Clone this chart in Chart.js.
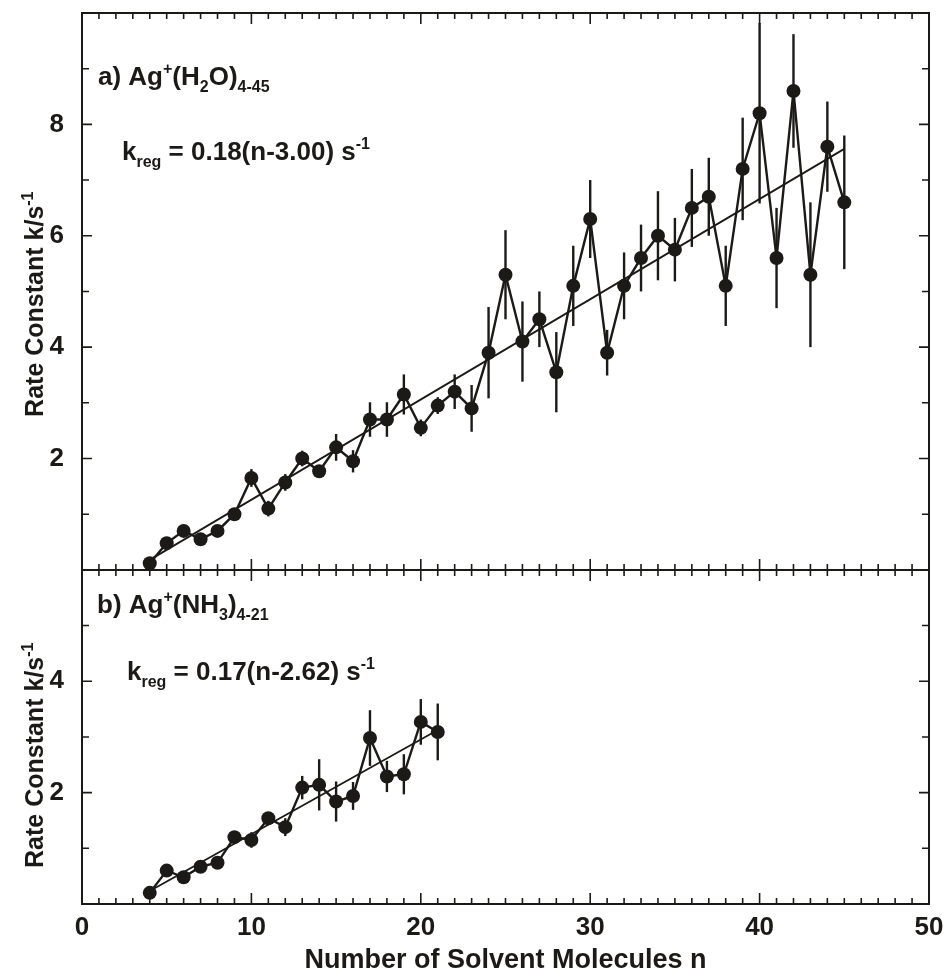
<!DOCTYPE html>
<html>
<head>
<meta charset="utf-8">
<script src="https://cdn.jsdelivr.net/npm/chart.js@4"></script>
<style>
  html, body { margin: 0; padding: 0; background: #fff; }
</style>
</head>
<body>
<canvas id="rateChart" width="944" height="976"></canvas>
<script>
// Ag+(H2O)n and Ag+(NH3)n rate constants vs. cluster size, two stacked panels

// panel a) water clusters, n = 4..45
const nWater = [4, 5, 6, 7, 8, 9, 10, 11, 12, 13, 14, 15, 16, 17, 18, 19, 20, 21, 22, 23, 24,
  25, 26, 27, 28, 29, 30, 31, 32, 33, 34, 35, 36, 37, 38, 39, 40, 41, 42, 43, 44, 45];
const kWater = [0.12, 0.48, 0.70, 0.55, 0.70, 1.00, 1.65, 1.10, 1.57, 2.00, 1.77, 2.20, 1.95,
  2.70, 2.70, 3.15, 2.55, 2.95, 3.20, 2.90, 3.90, 5.30, 4.10, 4.50, 3.55, 5.10, 6.30, 3.90,
  5.10, 5.60, 6.00, 5.75, 6.50, 6.70, 5.10, 7.20, 8.20, 5.60, 8.60, 5.30, 7.60, 6.60];
const errWater = [0.04, 0.05, 0.05, 0.06, 0.07, 0.05, 0.16, 0.14, 0.15, 0.14, 0.10, 0.24, 0.20,
  0.31, 0.31, 0.36, 0.15, 0.15, 0.31, 0.42, 0.82, 0.80, 0.72, 0.50, 0.72, 0.72, 0.70, 0.41,
  0.60, 0.60, 0.80, 0.57, 0.70, 0.70, 0.72, 0.92, 1.62, 0.90, 1.02, 1.30, 0.81, 1.20];
// linear fit k = slope * (n - n0), drawn over the measured range
const fitWater = [0.18, 3.00];

// panel b) ammonia clusters, n = 4..21
const nAmmonia = [4, 5, 6, 7, 8, 9, 10, 11, 12, 13, 14, 15, 16, 17, 18, 19, 20, 21];
const kAmmonia = [0.20, 0.60, 0.48, 0.67, 0.74, 1.20, 1.15, 1.54, 1.38, 2.09, 2.14, 1.84,
  1.94, 2.98, 2.29, 2.33, 3.27, 3.09];
const errAmmonia = [0.03, 0.04, 0.04, 0.08, 0.05, 0.05, 0.14, 0.10, 0.16, 0.21, 0.46, 0.36,
  0.25, 0.50, 0.28, 0.36, 0.41, 0.51];
const fitAmmonia = [0.17, 2.62];

// axes
const xRange = [0, 50];
const xTickStep = 10;
const yRangeA = [0, 10];
const yRangeB = [0, 6];

const INK = '#1c1a17';
const FONT = '"Liberation Sans", Arial, Helvetica, sans-serif';

const pts = (xs, ys) => xs.map((x, i) => ({ x, y: ys[i] }));
const fitLine = (xs, fit) => {
  const a = xs[0], b = xs[xs.length - 1];
  return [{ x: a, y: fit[0] * (a - fit[1]) }, { x: b, y: fit[0] * (b - fit[1]) }];
};

// text with sub/superscripts: parts = [{t, s: 'sub'|'sup'}]
function drawRich(ctx, parts, x, y, size) {
  let cx = x;
  const small = Math.round(size * 0.62);
  for (const p of parts) {
    ctx.font = `bold ${p.s ? small : size}px ${FONT}`;
    const dy = p.s === 'sub' ? size * 0.28 : p.s === 'sup' ? -size * 0.42 : 0;
    ctx.fillText(p.t, cx, y + dy);
    cx += ctx.measureText(p.t).width;
  }
}

const labelA = [{ t: 'a) Ag' }, { t: '+', s: 'sup' }, { t: '(H' }, { t: '2', s: 'sub' },
  { t: 'O)' }, { t: '4-45', s: 'sub' }];
const eqA = [{ t: 'k' }, { t: 'reg', s: 'sub' }, { t: ' = 0.18(n-3.00) s' }, { t: '-1', s: 'sup' }];
const labelB = [{ t: 'b) Ag' }, { t: '+', s: 'sup' }, { t: '(NH' }, { t: '3', s: 'sub' },
  { t: ')' }, { t: '4-21', s: 'sub' }];
const eqB = [{ t: 'k' }, { t: 'reg', s: 'sub' }, { t: ' = 0.17(n-2.62) s' }, { t: '-1', s: 'sup' }];
const yTitle = [{ t: 'Rate Constant k/s' }, { t: '-1', s: 'sup' }];

// frame, inward ticks, error bars and annotations
const panelPlugin = {
  id: 'panels',
  beforeDatasetsDraw(chart) {
    const { ctx, scales: { x, yA, yB } } = chart;
    ctx.save();
    ctx.strokeStyle = INK;
    ctx.lineWidth = 2.4;
    const bars = [[nWater, kWater, errWater, yA], [nAmmonia, kAmmonia, errAmmonia, yB]];
    for (const [ns, ks, es, ys] of bars) {
      ns.forEach((n, i) => {
        const px = x.getPixelForValue(n);
        ctx.beginPath();
        ctx.moveTo(px, ys.getPixelForValue(ks[i] - es[i]));
        ctx.lineTo(px, ys.getPixelForValue(ks[i] + es[i]));
        ctx.stroke();
      });
    }
    ctx.restore();
  },
  afterDraw(chart) {
    const { ctx, chartArea: ca, scales: { x, yA, yB } } = chart;
    ctx.save();
    ctx.strokeStyle = INK;
    ctx.lineWidth = 2;
    ctx.strokeRect(ca.left, ca.top, ca.right - ca.left, ca.bottom - ca.top);
    const mid = yA.bottom;
    ctx.beginPath();
    ctx.moveTo(ca.left, mid);
    ctx.lineTo(ca.right, mid);
    ctx.stroke();

    // x ticks: top frame, panel divider (both sides), bottom frame
    ctx.lineWidth = 1.6;
    ctx.beginPath();
    for (let v = xRange[0] + 1; v < xRange[1]; v++) {
      const px = x.getPixelForValue(v);
      const len = v % xTickStep === 0 ? 11 : 6;
      ctx.moveTo(px, ca.top); ctx.lineTo(px, ca.top + len);
      ctx.moveTo(px, mid - len); ctx.lineTo(px, mid + len);
      ctx.moveTo(px, ca.bottom); ctx.lineTo(px, ca.bottom - len);
    }
    // y ticks, left and right
    for (const [ys, r] of [[yA, yRangeA], [yB, yRangeB]]) {
      for (let v = r[0] + 1; v < r[1]; v++) {
        const py = ys.getPixelForValue(v);
        const len = v % 2 === 0 ? 10 : 7;
        ctx.moveTo(ca.left, py); ctx.lineTo(ca.left + len, py);
        ctx.moveTo(ca.right, py); ctx.lineTo(ca.right - len, py);
      }
    }
    ctx.stroke();

    // panel labels and fit equations
    ctx.fillStyle = INK;
    ctx.textBaseline = 'alphabetic';
    drawRich(ctx, labelA, ca.left + 16, yA.top + 72, 26);
    drawRich(ctx, eqA, ca.left + 40, yA.top + 147, 26);
    drawRich(ctx, labelB, ca.left + 15, yB.top + 43, 26);
    drawRich(ctx, eqB, ca.left + 45, yB.top + 110, 26);

    // rotated y titles
    for (const [ys, y0] of [[yA, yA.bottom - 153], [yB, yB.bottom - 36]]) {
      ctx.save();
      ctx.translate(43, y0);
      ctx.rotate(-Math.PI / 2);
      drawRich(ctx, yTitle, 0, 0, 25);
      ctx.restore();
    }
    ctx.restore();
  }
};

const seriesStyle = {
  borderColor: INK,
  backgroundColor: INK,
  borderWidth: 2.4,
  pointRadius: 7,
  pointHoverRadius: 7,
  pointBorderWidth: 0,
  tension: 0
};
const fitStyle = {
  borderColor: INK,
  borderWidth: 1.8,
  pointRadius: 0,
  tension: 0
};

const yTicks = (max) => ({
  stepSize: 1,
  padding: 18,
  color: INK,
  font: { family: FONT, size: 26, weight: 'bold' },
  callback: v => (v % 2 === 0 && v > 0 && v < max) ? v : ''
});

// fixed box sizes, no extra room for edge labels
const fixY = s => { s.width = 82; s.paddingTop = 0; s.paddingBottom = 0; };
const fixX = s => { s.height = 72; s.paddingLeft = 0; s.paddingRight = 0; };

new Chart(document.getElementById('rateChart'), {
  type: 'line',
  data: {
    datasets: [
      { ...fitStyle, label: 'fit a', data: fitLine(nWater, fitWater), yAxisID: 'yA' },
      { ...seriesStyle, label: 'Ag+(H2O)n', data: pts(nWater, kWater), yAxisID: 'yA' },
      { ...fitStyle, label: 'fit b', data: fitLine(nAmmonia, fitAmmonia), yAxisID: 'yB' },
      { ...seriesStyle, label: 'Ag+(NH3)n', data: pts(nAmmonia, kAmmonia), yAxisID: 'yB' }
    ]
  },
  options: {
    responsive: false,
    animation: false,
    layout: { padding: { top: 13, right: 15, left: 0, bottom: 0 } },
    plugins: { legend: { display: false }, tooltip: { enabled: false } },
    scales: {
      x: {
        type: 'linear',
        min: xRange[0],
        max: xRange[1],
        grid: { display: false, drawTicks: false },
        border: { display: false },
        ticks: {
          stepSize: xTickStep,
          padding: 8,
          maxRotation: 0,
          color: INK,
          font: { family: FONT, size: 26, weight: 'bold' }
        },
        title: {
          display: true,
          text: 'Number of Solvent Molecules n',
          color: INK,
          font: { family: FONT, size: 27, weight: 'bold' },
          padding: { top: 0, bottom: -1 }
        },
        afterFit: fixX
      },
      yA: {
        type: 'linear',
        position: 'left',
        stack: 'panels',
        stackWeight: yRangeA[1] - yRangeA[0],
        weight: 2,
        min: yRangeA[0],
        max: yRangeA[1],
        grid: { display: false, drawTicks: false },
        border: { display: false },
        ticks: yTicks(yRangeA[1]),
        afterFit: fixY
      },
      yB: {
        type: 'linear',
        position: 'left',
        stack: 'panels',
        stackWeight: yRangeB[1] - yRangeB[0],
        weight: 1,
        min: yRangeB[0],
        max: yRangeB[1],
        grid: { display: false, drawTicks: false },
        border: { display: false },
        ticks: yTicks(yRangeB[1]),
        afterFit: fixY
      }
    }
  },
  plugins: [panelPlugin]
});
</script>
</body>
</html>
